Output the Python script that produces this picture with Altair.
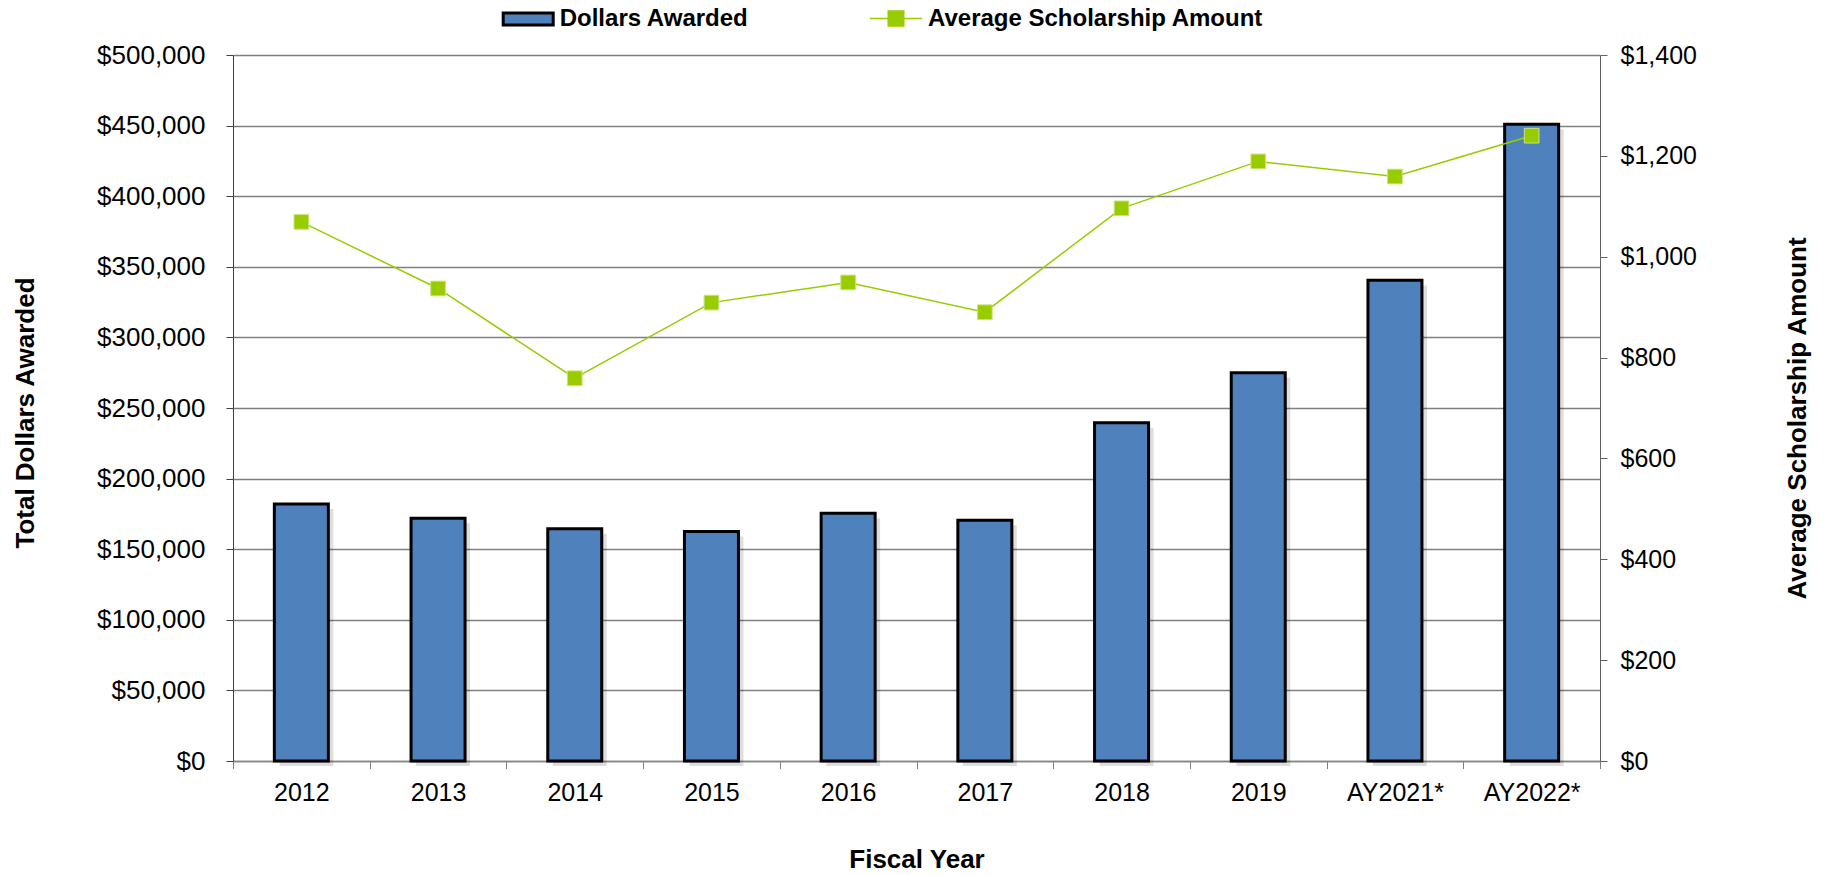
import altair as alt
import pandas as pd

# ---- data ----
years = ["2012", "2013", "2014", "2015", "2016", "2017", "2018", "2019", "AY2021*", "AY2022*"]
dollars_awarded = [182000, 172000, 164500, 162500, 175500, 170500, 239500, 275000, 340500, 451000]
avg_scholarship = [1069, 937, 759, 909, 949, 890, 1096, 1189, 1159, 1240]
left_ticks = list(range(0, 500001, 50000))
right_ticks = list(range(0, 1401, 200))

df = pd.DataFrame({"year": years, "dollars": dollars_awarded, "avg": avg_scholarship})
df["s1"] = "Dollars Awarded"
df["s2"] = "Average Scholarship Amount"

FONT = "Liberation Sans"
BLUE = "#4f81bd"
GREEN = "#99cc00"

x_enc = alt.X(
    "year:N",
    sort=years,
    scale=alt.Scale(paddingInner=0, paddingOuter=0),
    axis=alt.Axis(
        title="Fiscal Year", labelAngle=0, labelFontSize=25, labelColor="black",
        labelPadding=12, tickBand="extent", tickSize=7.5, tickColor="#808080",
        tickWidth=1, domainColor="#868686", domainWidth=1.5, grid=False,
        titleFontSize=26, titleFontWeight="bold", titleColor="black",
        titleY=106.5, titleBaseline="alphabetic",
    ),
)

left_y = alt.Y(
    "dollars:Q",
    scale=alt.Scale(domain=[0, 500000], nice=False, zero=True),
    axis=alt.Axis(
        values=left_ticks, format="$,.0f", orient="left",
        labelFontSize=26, labelColor="black", labelPadding=21,
        tickSize=7, tickColor="#404040", domainColor="#404040", domainWidth=1,
        grid=True, gridColor="#808080", gridWidth=1.5,
        title="Total Dollars Awarded", titleFontSize=26, titleFontWeight="bold",
        titleColor="black", titleAngle=270, titleX=-200, titleY=357.5,
        titleAlign="center", titleBaseline="alphabetic",
    ),
)

right_y = alt.Y(
    "avg:Q",
    scale=alt.Scale(domain=[0, 1400], nice=False, zero=True),
    axis=alt.Axis(
        values=right_ticks, format="$,.0f", orient="right",
        labelFontSize=25, labelColor="black", labelPadding=13,
        tickSize=7, tickColor="#606060", domainColor="#606060", domainWidth=1,
        grid=False,
        title="Average Scholarship Amount", titleFontSize=26, titleFontWeight="bold",
        titleColor="black", titleAngle=270, titleX=205, titleY=363,
        titleAlign="center", titleBaseline="alphabetic",
    ),
)

shadow = alt.Chart(df).mark_bar(
    color="#000000", opacity=0.13, xOffset=5, yOffset=5,
    width=alt.RelativeBandSize(0.395),
).encode(x=x_enc, y=left_y)

bars = alt.Chart(df).mark_bar(
    stroke="black", strokeWidth=3, width=alt.RelativeBandSize(0.395),
).encode(
    x=x_enc,
    y=left_y,
    fill=alt.Fill(
        "s1:N",
        scale=alt.Scale(domain=["Dollars Awarded"], range=[BLUE]),
        legend=alt.Legend(
            orient="none", legendX=268.7, legendY=-62.5, title=None,
            symbolType="M-1,-0.24H1V0.24H-1Z", symbolSize=2500,
            symbolStrokeColor="black", symbolStrokeWidth=3,
            labelFont=FONT, labelFontSize=24, labelFontWeight="bold",
            labelColor="black", labelLimit=600, labelOffset=5,
        ),
    ),
)

line = alt.Chart(df).mark_line(strokeWidth=1.5).encode(
    x=x_enc,
    y=right_y,
    stroke=alt.Stroke(
        "s2:N",
        scale=alt.Scale(domain=["Average Scholarship Amount"], range=[GREEN]),
        legend=alt.Legend(
            orient="none", legendX=636, legendY=-63.5, title=None,
            symbolType="M-1,0H1M-0.3,-0.29H0.3V0.29H-0.3Z", symbolSize=2704,
            symbolFillColor=GREEN, symbolStrokeWidth=1.5,
            labelFont=FONT, labelFontSize=24, labelFontWeight="bold",
            labelColor="black", labelLimit=600, labelOffset=5,
        ),
    ),
)

points = alt.Chart(df).mark_point(
    shape="square", filled=True, size=215, fill=GREEN, stroke="#c8e47a",
    strokeWidth=1, opacity=1,
).encode(x=x_enc, y=right_y)

left = alt.layer(shadow, bars)
right = alt.layer(line, points)

chart = (
    alt.layer(left, right)
    .resolve_scale(y="independent", fill="independent", stroke="independent")
    .properties(
        width=1367, height=706,
        autosize=alt.AutoSizeParams(type="none"),
        padding={"left": 233, "top": 55, "right": 224, "bottom": 114},
        background="white",
    )
    .configure(font=FONT)
    .configure_view(stroke=None)
)

chart.save("out.html", embed_options={"renderer": "svg", "actions": False})
